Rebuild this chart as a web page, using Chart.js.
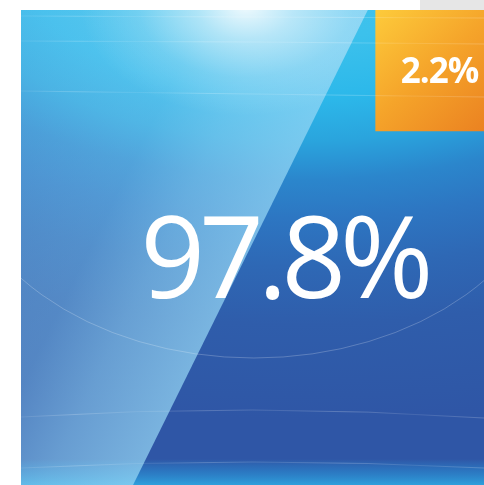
<!DOCTYPE html>
<html>
<head>
<meta charset="utf-8">
<script src="https://cdn.jsdelivr.net/npm/chart.js@4/dist/chart.umd.min.js"></script>
<style>
    html, body { margin: 0; padding: 0; background: #ffffff; }
    #wrap { width: 484px; height: 485px; }
</style>
</head>
<body>
<div id="wrap"><canvas id="shareChart" width="484" height="485"></canvas></div>
<script>
// Share values
const categories = ['Majority', 'Remainder'];
const values = [97.8, 2.2];

// Tile layout on a 0-100 grid (data units, not values)
const tileLeft = [0, 76.5];
const tileRight = [100, 100];
const tileBottom = [0, 74.5];
const tileTop = [100, 100];
const labelX = [56.8, 90.4];
const labelY = [39.4, 84.6];

let bluePaint = null;

function buildBluePaint(chart) {
    const a = chart.chartArea;
    const c = document.createElement('canvas');
    c.width = chart.width;
    c.height = chart.height;
    const g = c.getContext('2d');

    // base: wide elliptical gradient from above the top edge
    g.save();
    g.translate(a.left + a.width * 0.6, a.top - 70);
    g.scale(1 / 0.55, 1);
    const rg = g.createRadialGradient(0, 0, 0, 0, 0, 480);
    rg.addColorStop(0, '#40c4ee');
    rg.addColorStop(0.21, '#3cc1ec');
    rg.addColorStop(0.33, '#2cb8ea');
    rg.addColorStop(0.42, '#2aa4dd');
    rg.addColorStop(0.46, '#2a95d5');
    rg.addColorStop(0.5, '#2b86cc');
    rg.addColorStop(0.58, '#2d76c2');
    rg.addColorStop(0.68, '#2e68b5');
    rg.addColorStop(0.8, '#2f5dab');
    rg.addColorStop(0.95, '#2f58a7');
    rg.addColorStop(1, '#2f56a6');
    g.fillStyle = rg;
    g.fillRect(-2000, -200, 4000, 2000);
    g.restore();

    // bottom glow strip
    const bg = g.createLinearGradient(0, a.bottom - 26, 0, a.bottom);
    bg.addColorStop(0, 'rgba(42,138,208,0)');
    bg.addColorStop(0.45, 'rgba(42,130,202,0.7)');
    bg.addColorStop(1, 'rgba(46,160,220,1)');
    g.fillStyle = bg;
    g.fillRect(a.left, a.bottom - 26, a.width, 26);

    // light slanted overlay (cyan tint)
    const topX = a.left + a.width * 0.749;
    const botX = a.left + a.width * 0.242;
    g.save();
    g.beginPath();
    g.moveTo(a.left, a.top);
    g.lineTo(topX, a.top);
    g.lineTo(botX, a.bottom);
    g.lineTo(a.left, a.bottom);
    g.closePath();
    g.clip();
    const lg = g.createLinearGradient(topX, a.top, topX - 0.896 * 320, a.top - 0.443 * 320);
    lg.addColorStop(0, 'rgba(150,215,245,0.72)');
    lg.addColorStop(0.25, 'rgba(150,215,245,0.55)');
    lg.addColorStop(0.45, 'rgba(150,215,245,0.36)');
    lg.addColorStop(1, 'rgba(150,215,245,0.27)');
    g.fillStyle = lg;
    g.fillRect(a.left, a.top, a.width, a.height);

    // top glow
    g.translate(a.left + a.width * 0.485, a.top - 4);
    g.scale(1.5, 1);
    const tg = g.createRadialGradient(0, 0, 0, 0, 0, 110);
    tg.addColorStop(0, 'rgba(255,255,255,0.9)');
    tg.addColorStop(0.3, 'rgba(255,255,255,0.5)');
    tg.addColorStop(0.65, 'rgba(255,255,255,0.16)');
    tg.addColorStop(1, 'rgba(255,255,255,0)');
    g.fillStyle = tg;
    g.fillRect(-300, -50, 600, 300);
    g.restore();

    // faint arc
    g.save();
    g.strokeStyle = 'rgba(255,255,255,0.22)';
    g.lineWidth = 1;
    g.beginPath();
    g.ellipse(a.left + a.width * 0.503, a.top + 132, 300, 216, 0, 0, Math.PI);
    g.stroke();
    g.restore();

    return g.createPattern(c, 'no-repeat');
}

function tileColor(ctx) {
    const chart = ctx.chart;
    const a = chart.chartArea;
    if (!a) return ctx.datasetIndex === 0 ? '#2e6cb8' : '#f4a52c';
    if (ctx.datasetIndex === 0) {
        if (!bluePaint) bluePaint = buildBluePaint(chart);
        return bluePaint;
    }
    const x0 = chart.scales.x.getPixelForValue(tileLeft[1]);
    const y0 = chart.scales.y.getPixelForValue(tileTop[1]);
    const x1 = chart.scales.x.getPixelForValue(tileRight[1]);
    const y1 = chart.scales.y.getPixelForValue(tileBottom[1]);
    const og = chart.ctx.createLinearGradient(x0, y0, x1, y1);
    og.addColorStop(0, '#fdcb3b');
    og.addColorStop(0.5, '#f5a42a');
    og.addColorStop(1, '#eb8221');
    return og;
}

// thin light streaks across the panel + value labels
const streakPlugin = {
    id: 'streaks',
    beforeDraw(chart) {
        const c = chart.ctx;
        c.save();
        c.fillStyle = '#e6e6e6';
        c.fillRect(420, 0, chart.width - 420, chart.chartArea.top);
        c.restore();
    },
    afterDatasetsDraw(chart) {
        const c = chart.ctx;
        const a = chart.chartArea;
        const streaks = [
            [16, 17, 18], [41, 42, 44], [91, 94, 97],
            [417, 410, 418], [468, 462, 468]
        ];
        c.save();
        c.beginPath();
        c.rect(a.left, a.top, a.width, a.height);
        c.clip();
        c.lineWidth = 1;
        streaks.forEach(s => {
            const sg = c.createLinearGradient(a.left, 0, a.right, 0);
            sg.addColorStop(0, 'rgba(255,255,255,0.08)');
            sg.addColorStop(0.12, 'rgba(255,255,255,0.2)');
            sg.addColorStop(0.25, 'rgba(255,255,255,0.08)');
            sg.addColorStop(0.4, 'rgba(255,255,255,0.2)');
            sg.addColorStop(0.55, 'rgba(255,255,255,0.12)');
            sg.addColorStop(0.7, 'rgba(255,255,255,0.22)');
            sg.addColorStop(0.85, 'rgba(255,255,255,0.1)');
            sg.addColorStop(1, 'rgba(255,255,255,0.2)');
            c.strokeStyle = sg;
            c.beginPath();
            c.moveTo(a.left, s[0]);
            c.quadraticCurveTo(a.left + a.width / 2, 2 * s[1] - (s[0] + s[2]) / 2, a.right, s[2]);
            c.stroke();
        });
        c.restore();

        c.save();
        c.fillStyle = '#ffffff';
        c.textAlign = 'left';
        c.textBaseline = 'alphabetic';
        values.forEach((v, i) => {
            c.font = i === 0 ? '400 113px "Open Sans"' : 'bold 35px "Open Sans"';
            c.letterSpacing = i === 0 ? '-6px' : '-1px';
            const txt = v.toFixed(1) + '%';
            const w = c.measureText(txt).width;
            const cx = chart.scales.x.getPixelForValue(labelX[i]);
            c.fillText(txt, cx - w / 2, chart.scales.y.getPixelForValue(labelY[i]));
        });
        c.restore();
    }
};

const ctx = document.getElementById('shareChart').getContext('2d');
new Chart(ctx, {
    type: 'line',
    data: {
        datasets: categories.map((name, i) => ({
            label: name,
            data: [{ x: tileLeft[i], y: tileTop[i] }, { x: tileRight[i], y: tileTop[i] }],
            fill: { value: tileBottom[i] },
            order: categories.length - i,
            backgroundColor: tileColor,
            borderColor: 'rgba(0,0,0,0)',
            borderWidth: 0,
            pointRadius: 0
        }))
    },
    options: {
        responsive: false,
        animation: false,
        devicePixelRatio: 1,
        layout: { padding: { left: 21, top: 10, right: 0, bottom: 0 } },
        scales: {
            x: { type: 'linear', min: 0, max: 100, display: false },
            y: { type: 'linear', min: 0, max: 100, display: false }
        },
        plugins: {
            legend: { display: false },
            tooltip: { enabled: false }
        }
    },
    plugins: [streakPlugin]
});
</script>
</body>
</html>
